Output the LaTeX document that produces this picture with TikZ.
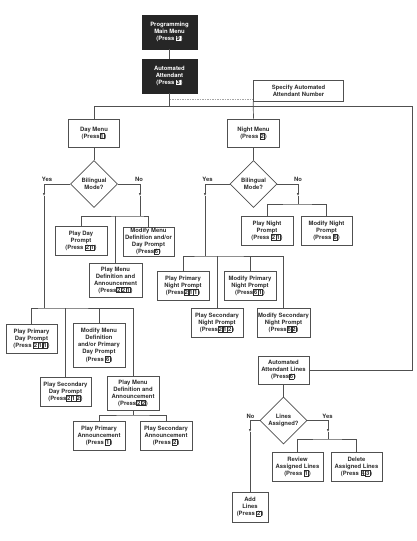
\documentclass[tikz,border=0pt]{standalone}
\usepackage{fontspec}
\setmainfont{TeX Gyre Heros}
\usetikzlibrary{shapes.geometric, arrows.meta}

% boxed key digits
\newcommand\kbox[1]{{\setlength\fboxsep{0.4pt}\setlength\fboxrule{0.35pt}\fbox{#1}}}
\newcommand\kinv[1]{{\setlength\fboxsep{0.6pt}\colorbox{white}{\textcolor{black}{#1}}}}
\newcommand\boxfont{\fontsize{5.9}{7}\selectfont\bfseries}

\begin{document}
\begin{tikzpicture}[x=1pt, y=-1pt,
	menubox/.style={draw=linegray, line width=0.7pt, fill=white, text=textgray, font=\boxfont, align=center, inner sep=1pt, minimum width=52pt, minimum height=29pt},
	darkbox/.style={menubox, fill=darkfill, draw=darkfill, text=white, minimum width=55pt, minimum height=34pt},
	askbox/.style={menubox, shape=diamond, aspect=1, inner sep=0pt, minimum width=47pt, minimum height=47pt},
	flowline/.style={draw=linegray, line width=0.7pt},
	flowarrow/.style={flowline, -{Latex[length=3pt,width=2.6pt]}},
	dashline/.style={draw=dashgray, line width=0.8pt, dash pattern=on 1.5pt off 1pt},
	branch/.style={text=textgray, font=\boxfont, inner sep=0pt}]
	\definecolor{linegray}{RGB}{80,80,80}
	\definecolor{textgray}{RGB}{45,45,45}
	\definecolor{darkfill}{RGB}{38,38,38}
	\definecolor{dashgray}{RGB}{165,165,165}
	\useasboundingbox (0,0) rectangle (416,541);

	% top of the menu tree
	\node (main) at (169.5,32) [darkbox] {Programming\\Main Menu\\(Press \kinv{9})};
	\node (aa) at (169.5,76) [darkbox] {Automated\\Attendant\\(Press \kinv{3})};
	\node (spec) at (298.5,90.5) [menubox, minimum width=90pt, minimum height=21pt] {Specify Automated\\Attendant Number};
	\coordinate (rbus) at (412,106);

	% day branch
	\node (day) at (94,133) [menubox, minimum width=51pt, minimum height=28pt] {Day Menu\\(Press\kbox{1})};
	\node (dbil) at (94,184) [askbox] {Bilingual\\Mode?};
	\node (pdp) at (81,241) [menubox] {Play Day\\Prompt\\(Press \kbox{2}\kbox{1})};
	\node (mdp) at (148.5,241.5) [menubox, minimum width=51pt] {Modify Menu\\Definition and/or\\Day Prompt\\(Press\kbox{6})};
	\node (pmd1) at (115.5,280) [menubox, minimum width=53pt, minimum height=34pt] {Play Menu\\Definition and\\Announcement\\(Press\kbox{2}\kbox{2}\kbox{1})};
	\node (ppdp) at (31.5,338.5) [menubox, minimum width=51pt] {Play Primary\\Day Prompt\\(Press \kbox{2}\kbox{1}\kbox{1})};
	\node (mmpd) at (99,345) [menubox, minimum height=44pt] {Modify Menu\\Definition\\and/or Primary\\Day Prompt\\[1pt](Press \kbox{6})};
	\node (psdp) at (65.5,391.5) [menubox, minimum width=51pt] {Play Secondary\\Day Prompt\\(Press\kbox{2}\kbox{1}\kbox{2})};
	\node (pmd2) at (133,393) [menubox, minimum height=34pt] {Play Menu\\Definition and\\Announcement\\(Press\kbox{2}\kbox{2})};
	\node (ppa) at (99,435.5) [menubox] {Play Primary\\Announcement\\(Press \kbox{1})};
	\node (psa) at (166,435.5) [menubox] {Play Secondary\\Announcement\\(Press \kbox{2})};

	% night branch
	\node (night) at (253.5,133) [menubox, minimum height=28pt] {Night Menu\\(Press \kbox{2})};
	\node (nbil) at (253.5,184) [askbox] {Bilingual\\Mode?};
	\node (pnp) at (267,230.5) [menubox] {Play Night\\Prompt\\(Press \kbox{2}\kbox{1})};
	\node (mnp) at (326.5,230.5) [menubox, minimum width=51pt] {Modify Night\\Prompt\\(Press \kbox{6})};
	\node (ppnp) at (183,285.5) [menubox] {Play Primary\\Night Prompt\\(Press\kbox{2}\kbox{1}\kbox{1})};
	\node (mpnp) at (250,285.5) [menubox] {Modify Primary\\Night Prompt\\(Press\kbox{6}\kbox{1})};
	\node (psnp) at (217,322.5) [menubox] {Play Secondary\\Night Prompt\\(Press\kbox{2}\kbox{1}\kbox{2})};
	\node (msnp) at (283.5,322.5) [menubox, minimum width=51pt] {Modify Secondary\\Night Prompt\\(Press\kbox{6}\kbox{2})};

	% attendant lines
	\node (aal) at (283.5,370) [menubox, minimum width=51pt, minimum height=28pt] {Automated\\Attendant Lines\\(Press\kbox{6})};
	\node (lbil) at (283.5,420.5) [askbox] {Lines\\Assigned?};
	\node (ral) at (297.5,466.5) [menubox, minimum width=51pt] {Review\\Assigned Lines\\(Press \kbox{1})};
	\node (dal) at (356.5,466.5) [menubox, minimum width=51pt] {Delete\\Assigned Lines\\(Press \kbox{4}\kbox{3})};
	\node (add) at (250,507) [menubox, minimum width=36pt, minimum height=30pt] {Add\\Lines\\(Press \kbox{2})};

	% trunk
	\draw[flowline] (main) -- (aa);
	\draw[flowline] (aa.south) -- (aa.south |- rbus);
	\draw[flowline] (day.north) |- (rbus) |- (aal.east);
	\draw[flowline] (spec.south west) -- (night.north);
	\draw[dashline] ([yshift=2pt]aa.south |- spec.south west) -- ([yshift=2pt]spec.south west);

	% day connectors
	\coordinate (dyarr) at (44,196);
	\coordinate (dybus) at (44,308);
	\coordinate (dnarr) at (140,196);
	\coordinate (dnbus) at (140,216);
	\coordinate (abus) at (133,415);
	\draw[flowline] (day) -- (dbil);
	\draw[flowarrow] (dbil.west) -| (dyarr);
	\draw[flowline] (dyarr) -- (dybus);
	\draw[flowline] (ppdp.north) |- (dybus) -| (pmd2.north);
	\draw[flowline] (psdp.north) -- (psdp.north |- dybus);
	\draw[flowline] (mmpd.north) -- (mmpd.north |- dybus);
	\draw[flowarrow] (dbil.east) -| (dnarr);
	\draw[flowline] (dnarr) -- (dnbus);
	\draw[flowline] (pdp.north) |- (dnbus) -| (mdp.north);
	\draw[flowline] (pmd1.north) -- (pmd1.north |- dnbus);
	\draw[flowline] (pmd2.south) -- (abus);
	\draw[flowline] (ppa.north) |- (abus) -| (psa.north);
	\node (dyes) at (47,179) [branch] {Yes};
	\node (dno) at (139,179) [branch] {No};

	% night connectors
	\coordinate (nyarr) at (205,196);
	\coordinate (nybus) at (205,256);
	\coordinate (nnarr) at (298,196);
	\coordinate (nnbus) at (298,204);
	\draw[flowline] (night) -- (nbil);
	\draw[flowarrow] (nbil.west) -| (nyarr);
	\draw[flowline] (nyarr) -- (nybus);
	\draw[flowline] (ppnp.north) |- (nybus) -| (msnp.north);
	\draw[flowline] (psnp.north) -- (psnp.north |- nybus);
	\draw[flowline] (mpnp.north) -- (mpnp.north |- nybus);
	\draw[flowarrow] (nbil.east) -| (nnarr);
	\draw[flowline] (nnarr) -- (nnbus);
	\draw[flowline] (pnp.north) |- (nnbus) -| (mnp.north);
	\node (nyes) at (207.5,179) [branch] {Yes};
	\node (nno) at (298,179) [branch] {No};

	% lines connectors
	\coordinate (lnarr) at (250,432);
	\coordinate (lyarr) at (328,432);
	\coordinate (lybus) at (328,439);
	\draw[flowline] (aal) -- (lbil);
	\draw[flowarrow] (lbil.west) -| (lnarr);
	\draw[flowline] (lnarr) -- (add.north);
	\draw[flowarrow] (lbil.east) -| (lyarr);
	\draw[flowline] (lyarr) -- (lybus);
	\draw[flowline] (ral.north) |- (lybus) -| (dal.north);
	\node (lno) at (250.5,416) [branch] {No};
	\node (lyes) at (327.5,416) [branch] {Yes};
\end{tikzpicture}
\end{document}
